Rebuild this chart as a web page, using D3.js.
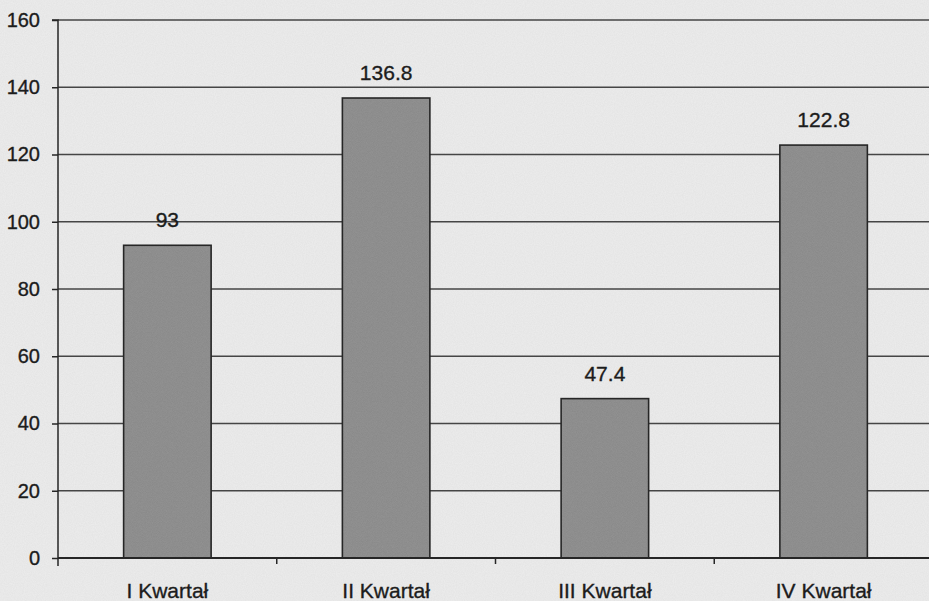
<!DOCTYPE html>
<html>
<head>
<meta charset="utf-8">
<script src="https://cdn.jsdelivr.net/npm/d3@7"></script>
<style>
html,body{margin:0;padding:0;background:#ebebeb;}
svg{display:block;}
</style>
</head>
<body>
<svg id="chart" width="929" height="601"></svg>
<script>
const categories = ["I Kwartał", "II Kwartał", "III Kwartał", "IV Kwartał"];
const values = [93, 136.8, 47.4, 122.8];
const valueLabels = ["93", "136.8", "47.4", "122.8"];
const yTicks = [0, 20, 40, 60, 80, 100, 120, 140, 160];

const W = 929, H = 601;
const margin = {left: 58, top: 20, bottom: 43};
const plotRight = 933;
const FONT = "Liberation Sans, Arial, sans-serif";
const INK = "#1c1c1c";
const svg = d3.select("#chart");

const defs = svg.append("defs");
const fp = defs.append("filter").attr("id", "paper").attr("x", 0).attr("y", 0).attr("width", 1).attr("height", 1);
fp.append("feTurbulence").attr("type", "fractalNoise").attr("baseFrequency", 0.9).attr("numOctaves", 2).attr("seed", 3).attr("result", "n");
fp.append("feColorMatrix").attr("in", "n").attr("type", "matrix")
  .attr("values", "0 0 0 0 0.5  0 0 0 0 0.5  0 0 0 0 0.5  0.25 0 0 0 -0.05").attr("result", "m");
fp.append("feComposite").attr("in", "m").attr("in2", "SourceGraphic").attr("operator", "atop");

const fb = defs.append("filter").attr("id", "barnoise").attr("x", 0).attr("y", 0).attr("width", 1).attr("height", 1);
fb.append("feTurbulence").attr("type", "fractalNoise").attr("baseFrequency", 1.2).attr("numOctaves", 1).attr("seed", 7).attr("result", "n");
fb.append("feColorMatrix").attr("in", "n").attr("type", "matrix")
  .attr("values", "0 0 0 0 0.35  0 0 0 0 0.35  0 0 0 0 0.35  0.6 0 0 0 -0.15").attr("result", "m");
fb.append("feComposite").attr("in", "m").attr("in2", "SourceGraphic").attr("operator", "atop");

svg.append("rect").attr("width", W).attr("height", H).attr("fill", "#ebebeb").attr("filter", "url(#paper)");

const x = d3.scaleBand().domain(categories).range([margin.left, plotRight]).paddingInner(0.6).paddingOuter(0.3);
const xb = d3.scaleBand().domain(categories).range([margin.left, plotRight]);
const y = d3.scaleLinear().domain([0, 160]).range([H - margin.bottom, margin.top]);

// gridlines
svg.append("g").selectAll("line").data(yTicks.filter(d => d > 0)).join("line")
  .attr("x1", margin.left).attr("x2", W)
  .attr("y1", d => y(d)).attr("y2", d => y(d))
  .attr("stroke", "#454545").attr("stroke-width", 1.5);

// bars
svg.append("g").selectAll("rect").data(values).join("rect")
  .attr("x", (d, i) => x(categories[i]))
  .attr("y", d => y(d))
  .attr("width", x.bandwidth())
  .attr("height", d => y(0) - y(d))
  .attr("fill", "#8a8a8a")
  .attr("filter", "url(#barnoise)");
svg.append("g").selectAll("rect").data(values).join("rect")
  .attr("x", (d, i) => x(categories[i]))
  .attr("y", d => y(d))
  .attr("width", x.bandwidth())
  .attr("height", d => y(0) - y(d))
  .attr("fill", "none").attr("stroke", "#262626").attr("stroke-width", 1.6);

// value labels
svg.append("g").selectAll("text").data(values).join("text")
  .attr("x", (d, i) => x(categories[i]) + x.bandwidth() / 2)
  .attr("y", d => y(d) - 18)
  .attr("text-anchor", "middle")
  .attr("font-family", FONT)
  .attr("font-size", 21).attr("fill", INK).attr("stroke", INK).attr("stroke-width", 0.35)
  .text((d, i) => valueLabels[i]);

// y axis
const yAxis = svg.append("g").attr("transform", `translate(${margin.left},0)`)
  .call(d3.axisLeft(y).tickValues(yTicks).tickSize(6).tickPadding(12).tickFormat(d3.format("d")));
yAxis.select(".domain").attr("stroke", "#262626").attr("stroke-width", 1.5).attr("d", `M-6,${y(160)}H0V${y(0)+8}`);
yAxis.selectAll(".tick line").attr("stroke", "#262626").attr("stroke-width", 1.5);
yAxis.selectAll(".tick text").attr("font-family", FONT).attr("font-size", 20).attr("fill", INK)
  .attr("stroke", INK).attr("stroke-width", 0.35);

// x axis
const xAxis = svg.append("g").attr("transform", `translate(0,${y(0)})`)
  .call(d3.axisBottom(xb).tickSize(0).tickPadding(29));
xAxis.select(".domain").attr("stroke", "#262626").attr("stroke-width", 2).attr("d", `M${margin.left},0H${W}`);
xAxis.selectAll(".tick text").attr("font-family", FONT).attr("font-size", 21).attr("fill", INK).attr("dy", "0.5em")
  .attr("stroke", INK).attr("stroke-width", 0.35);
// category boundary ticks
svg.append("g").selectAll("line").data(categories.slice(1)).join("line")
  .attr("x1", d => xb(d)).attr("x2", d => xb(d))
  .attr("y1", y(0)).attr("y2", y(0) + 6)
  .attr("stroke", "#262626").attr("stroke-width", 1.5);
</script>
</body>
</html>
